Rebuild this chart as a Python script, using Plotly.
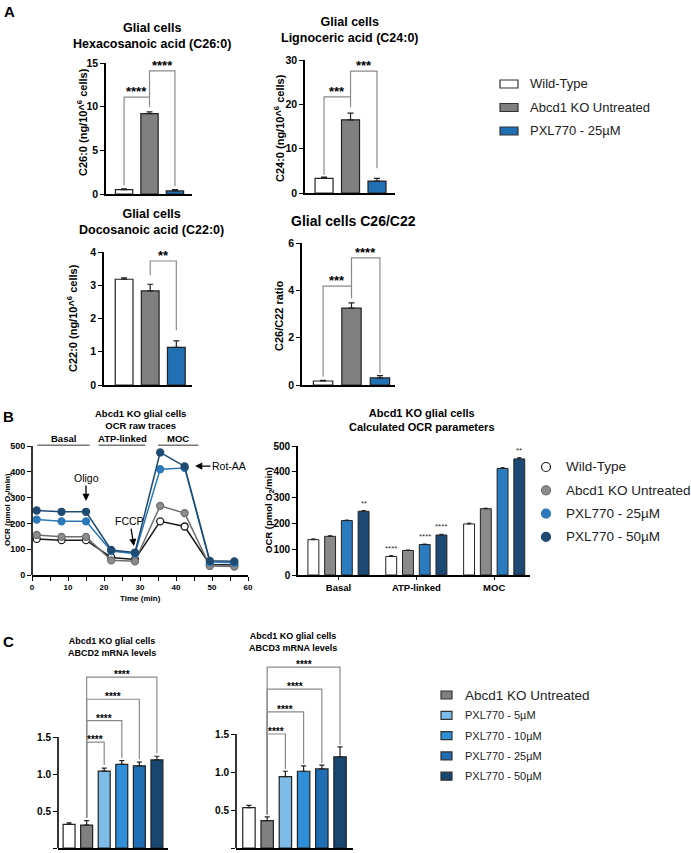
import plotly.graph_objects as go

W, H = 691, 853
FONT = "Liberation Sans, Arial, Helvetica, sans-serif"


def fx(p):
    return p / W


def fy(p):
    return 1 - p / H


# ---------------- DATA ----------------
# Panel A
groups_A = ["Wild-Type", "Abcd1 KO Untreated", "PXL770 - 25µM"]
c26_mean = [0.5, 9.2, 0.35]
c26_err = [0.1, 0.2, 0.15]
c24_mean = [3.3, 16.5, 2.7]
c24_err = [0.3, 1.5, 0.6]
c22_mean = [3.18, 2.83, 1.13]
c22_err = [0.04, 0.2, 0.2]
ratio_mean = [0.17, 3.25, 0.3]
ratio_err = [0.03, 0.22, 0.1]

# Panel B
ocr_groups = ["Wild-Type", "Abcd1 KO Untreated", "PXL770 - 25µM", "PXL770 - 50µM"]
time_min = [1.3, 8.2, 15.0, 22.0, 28.6, 35.6, 42.4, 49.4, 56.2]
ocr_wt = [140, 135, 135, 68, 60, 208, 188, 41, 39]
ocr_ko = [155, 148, 148, 57, 53, 268, 240, 35, 33]
ocr_pxl25 = [215, 208, 208, 93, 83, 410, 415, 50, 47]
ocr_pxl50 = [250, 245, 245, 97, 87, 475, 421, 55, 53]

param_labels = ["Basal", "ATP-linked", "MOC"]
par_wt = [137, 72, 198]
par_ko = [150, 95, 257]
par_pxl25 = [211, 118, 413]
par_pxl50 = [247, 155, 450]
par_wt_err = [3, 3, 3]
par_ko_err = [2, 2, 2]
par_pxl25_err = [2, 2, 3]
par_pxl50_err = [3, 3, 5]
phase_labels = ["Basal", "ATP-linked", "MOC"]
phase_start = [1.5, 18.5, 35.0]
phase_end = [16.0, 31.5, 46.2]

# Panel C
mrna_groups = ["Wild-Type", "Abcd1 KO Untreated", "PXL770 - 5µM", "PXL770 - 10µM",
               "PXL770 - 25µM", "PXL770 - 50µM"]
abcd2_mean = [0.32, 0.31, 1.04, 1.13, 1.11, 1.19]
abcd2_err = [0.02, 0.06, 0.04, 0.05, 0.05, 0.05]
abcd3_mean = [0.53, 0.36, 0.94, 1.01, 1.04, 1.20]
abcd3_err = [0.03, 0.05, 0.07, 0.07, 0.05, 0.13]

# ---------------- STYLE ----------------
COL_A = ["#ffffff", "#808080", "#2170b3"]
COL_B_FILL = ["#ffffff", "#8c8c8c", "#2c78b8", "#1f4a72"]
COL_B_LINE = ["#1a1a1a", "#6e6e6e", "#2c78b8", "#1f4a72"]
COL_B_BAR = ["#ffffff", "#8a8a8a", "#2b7bbf", "#1c4a75"]
COL_C = ["#ffffff", "#808080", "#7dbce9", "#2f8ed8", "#1f6db2", "#174670"]
OUTLINE = "#222222"
BRACKET = "#8a8a8a"

fig = go.Figure()

# ---------------- PANEL A bars ----------------
panelA = [("x", "y", c26_mean, c26_err),
          ("x2", "y2", c24_mean, c24_err),
          ("x3", "y3", c22_mean, c22_err),
          ("x4", "y4", ratio_mean, ratio_err)]
for k, (xa, ya, m, e) in enumerate(panelA):
    for i, g in enumerate(groups_A):
        fig.add_trace(go.Bar(
            x=[i], y=[m[i]], width=0.68, xaxis=xa, yaxis=ya, name=g,
            marker=dict(color=COL_A[i], line=dict(color=OUTLINE, width=1.2)),
            error_y=dict(type="data", array=[e[i]], arrayminus=[0], symmetric=False,
                         color=OUTLINE, thickness=1.2, width=3),
            showlegend=False))

# ---------------- PANEL B traces ----------------
ocr_series = [ocr_wt, ocr_ko, ocr_pxl25, ocr_pxl50]
for s, name in enumerate(ocr_groups):
    fig.add_trace(go.Scatter(
        x=time_min, y=ocr_series[s], mode="lines+markers", xaxis="x5", yaxis="y5",
        line=dict(color=COL_B_LINE[s], width=1.5),
        marker=dict(size=7, color=COL_B_FILL[s], line=dict(color=COL_B_LINE[s], width=1.3)),
        name=name, showlegend=False, cliponaxis=False))

par_series = [par_wt, par_ko, par_pxl25, par_pxl50]
par_errs = [par_wt_err, par_ko_err, par_pxl25_err, par_pxl50_err]
SLOT = 0.215
for s, name in enumerate(ocr_groups):
    xs = [g + (s - 1.5) * SLOT for g in range(len(param_labels))]
    fig.add_trace(go.Bar(
        x=xs, y=par_series[s], width=0.14, xaxis="x6", yaxis="y6", name=name,
        marker=dict(color=COL_B_BAR[s], line=dict(color=OUTLINE, width=1.0)),
        error_y=dict(type="data", array=par_errs[s], arrayminus=[0] * 3, symmetric=False,
                     color=OUTLINE, thickness=1.0, width=2),
        showlegend=False))

# ---------------- PANEL C bars ----------------
panelC = [("x7", "y7", abcd2_mean, abcd2_err), ("x8", "y8", abcd3_mean, abcd3_err)]
for k, (xa, ya, m, e) in enumerate(panelC):
    for i, g in enumerate(mrna_groups):
        fig.add_trace(go.Bar(
            x=[i], y=[m[i]], width=0.68, xaxis=xa, yaxis=ya, name=g,
            marker=dict(color=COL_C[i], line=dict(color=OUTLINE, width=1.2)),
            error_y=dict(type="data", array=[e[i]], arrayminus=[0], symmetric=False,
                         color=OUTLINE, thickness=1.2, width=2.5),
            showlegend=False))

# ---------------- LAYOUT ----------------
def tfont(size):
    return dict(family=FONT, size=size, color="black", weight="bold")


def xax(dom, rng, anchor, **kw):
    d = dict(domain=[fx(dom[0]), fx(dom[1])], range=rng, anchor=anchor, showline=True,
             linecolor="black", linewidth=1.6, showgrid=False, zeroline=False,
             ticks="", showticklabels=False, fixedrange=True)
    d.update(kw)
    return d


def yax(dom, rng, anchor, size, **kw):
    d = dict(domain=[fy(dom[0]), fy(dom[1])], range=rng, anchor=anchor, showline=True,
             linecolor="black", linewidth=1.6, showgrid=False, zeroline=False,
             ticks="outside", ticklen=4, tickwidth=1.4, tickcolor="black",
             tickfont=tfont(size), fixedrange=True)
    d.update(kw)
    return d


B1_TOP = 575 - 560 * 129 / 500
C1_TOP = 848 - 2.45 * 74
C2_TOP = 848 - 2.5 * 76

layout = dict(
    width=W, height=H, margin=dict(l=0, r=0, t=0, b=0, autoexpand=False),
    paper_bgcolor="white", plot_bgcolor="rgba(0,0,0,0)",
    barmode="overlay", font=dict(family=FONT, color="black"), showlegend=False,
    xaxis=xax((106, 192), [-0.71, 2.67], "y"),
    yaxis=yax((194, 63), [0, 15], "x", 10.5, dtick=5),
    xaxis2=xax((305, 395), [-0.72, 2.68], "y2"),
    yaxis2=yax((193, 60), [0, 30], "x2", 10.5, dtick=10),
    xaxis3=xax((104, 192), [-0.77, 2.6], "y3"),
    yaxis3=yax((385, 252), [0, 4], "x3", 10.5, dtick=1),
    xaxis4=xax((302, 395), [-0.74, 2.53], "y4"),
    yaxis4=yax((385, 243), [0, 6], "x4", 10.5, dtick=2),
    xaxis5=xax((32, 248), [0, 60], "y5", ticks="outside", ticklen=4, tickwidth=1.2,
               tickcolor="black", showticklabels=True, tickfont=tfont(8),
               tick0=0, dtick=10,
               minor=dict(ticks="outside", dtick=5, ticklen=4, tickwidth=1.2, tickcolor="black",
                          showgrid=False)),
    yaxis5=yax((575, B1_TOP), [0, 560], "x5", 9, showline=False,
               tickvals=[0, 100, 200, 300, 400, 500]),
    xaxis6=xax((298, 530), [-0.52, 2.46], "y6", ticks="outside", ticklen=3, tickwidth=1.2,
               tickcolor="black", showticklabels=True, tickfont=tfont(9.5),
               tickvals=[0, 1, 2], ticktext=param_labels),
    yaxis6=yax((575, 446), [0, 500], "x6", 10, dtick=100),
    xaxis7=xax((58, 168), [-0.63, 5.63], "y7"),
    yaxis7=yax((848, C1_TOP), [0, 2.45], "x7", 10, showline=False,
               tickvals=[0, 0.5, 1.0, 1.5], ticktext=["0.0", "0.5", "1.0", "1.5"]),
    xaxis8=xax((236, 353), [-0.71, 5.71], "y8"),
    yaxis8=yax((848, C2_TOP), [0, 2.5], "x8", 10, showline=False,
               tickvals=[0, 0.5, 1.0, 1.5], ticktext=["0.0", "0.5", "1.0", "1.5"]),
)
fig.update_layout(**layout)

shapes = []
annotations = []


def ann_px(text, x, y, size, bold=True, angle=0, xanchor="center", yanchor="middle", color="black"):
    annotations.append(dict(
        text=text, x=fx(x), y=fy(y), xref="paper", yref="paper", showarrow=False,
        xanchor=xanchor, yanchor=yanchor, textangle=angle,
        font=dict(family=FONT, size=size, color=color, weight="bold" if bold else "normal")))


def bracket(xa, ya, i, j, h, yl, yr, label, size, yshift):
    shapes.append(dict(type="path", xref=xa, yref=ya,
                       path=f"M {i},{yl} L {i},{h} L {j},{h} L {j},{yr}",
                       line=dict(color=BRACKET, width=1.2)))
    annotations.append(dict(text=label, x=(i + j) / 2, y=h, xref=xa, yref=ya,
                            showarrow=False, yanchor="bottom", yshift=yshift,
                            font=dict(family=FONT, size=size, color="black", weight="bold")))


def key_item(kind, cx, cy, w, h, fill, edge, text, tx, size):
    shapes.append(dict(type=kind, xref="paper", yref="paper",
                       xsizemode="pixel", ysizemode="pixel",
                       xanchor=fx(cx), yanchor=fy(cy), x0=-w / 2, x1=w / 2, y0=-h / 2, y1=h / 2,
                       fillcolor=fill, line=dict(color=edge, width=1.2)))
    annotations.append(dict(text=text, x=fx(tx), y=fy(cy), xref="paper", yref="paper",
                            showarrow=False, xanchor="left", yanchor="middle",
                            font=dict(family=FONT, size=size, color="#222")))


# Panel A brackets
bracket("x", "y", 0, 1, 11.1, 1.0, 10.0, "****", 13, -4)
bracket("x", "y", 1, 2, 14.1, 11.1, 0.9, "****", 13, -4)
bracket("x2", "y2", 0, 1, 21.7, 4.1, 19.4, "***", 13, -4)
bracket("x2", "y2", 1, 2, 27.5, 21.7, 5.6, "***", 13, -4)
bracket("x3", "y3", 1, 2, 3.73, 3.3, 1.65, "**", 13, -4)
bracket("x4", "y4", 0, 1, 4.18, 0.35, 3.65, "***", 13, -4)
bracket("x4", "y4", 1, 2, 5.37, 4.18, 0.5, "****", 13, -4)

# Panel C brackets
for xa, ya, m, e, heights, pad in [("x7", "y7", abcd2_mean, abcd2_err, [1.43, 1.72, 2.01, 2.31], 0.04),
                                   ("x8", "y8", abcd3_mean, abcd3_err, [1.50, 1.79, 2.09, 2.38], 0.03)]:
    for n, j in enumerate(range(2, 6)):
        bracket(xa, ya, 1, j, heights[n], m[1] + e[1] + pad, m[j] + e[j] + pad, "****", 10, -5)
    shapes.append(dict(type="line", xref=xa + " domain", yref=ya, x0=0, x1=0, y0=0, y1=1.5,
                       line=dict(color="black", width=1.6)))

# Panel B1 axis line and phase labels
shapes.append(dict(type="line", xref="x5 domain", yref="y5", x0=0, x1=0, y0=0, y1=500,
                   line=dict(color="black", width=1.6)))
for lab, a, b in zip(phase_labels, phase_start, phase_end):
    shapes.append(dict(type="line", xref="x5", yref="y5", x0=a, x1=b, y0=503, y1=503,
                       line=dict(color="#777777", width=1.5)))
    annotations.append(dict(text=lab, x=(a + b) / 2, y=501, xref="x5", yref="y5",
                            showarrow=False, yanchor="bottom",
                            font=dict(family=FONT, size=9.5, color="black", weight="bold")))

# Injection arrows
for txt, x, y, ax, ay in [("Oligo", 15.0, 287, 0, -23), ("FCCP", 28.3, 112, -4, -25),
                          ("Rot-AA", 45.3, 422, 34, 0)]:
    annotations.append(dict(text=txt, x=x, y=y, xref="x5", yref="y5", showarrow=True,
                            ax=ax, ay=ay, arrowhead=2, arrowsize=1.1, arrowwidth=1.3,
                            arrowcolor="black", standoff=0,
                            font=dict(family=FONT, size=10.5, color="black")))

# Panel B2 significance
sig_B = [(0, 3, "**"), (1, 0, "****"), (1, 2, "****"), (1, 3, "****"), (2, 3, "**")]
for g, s, lab in sig_B:
    annotations.append(dict(text=lab, x=g + (s - 1.5) * SLOT, y=par_series[s][g] + par_errs[s][g],
                            xref="x6", yref="y6", showarrow=False, yanchor="bottom", yshift=1,
                            font=dict(family=FONT, size=8, color="#333")))

# Keys
for i, g in enumerate(groups_A):
    key_item("rect", 509, 84 + i * 23.5, 18, 8, COL_A[i], "#333333", g, 528, 13)
for s, g in enumerate(ocr_groups):
    key_item("circle", 546, 467 + s * 23.3, 9, 9, COL_B_FILL[s], COL_B_LINE[s], g, 564, 13.5)
for n, i in enumerate(range(1, len(mrna_groups))):
    key_item("rect", 446.5, 695 + n * 20.3, 11, 8, COL_C[i], "#333333", mrna_groups[i], 463,
             13.5 if i == 1 else 11)

# Titles and labels
ann_px("A", 2, 11, 15, xanchor="left")
ann_px("B", 1, 416, 15, xanchor="left")
ann_px("C", 1, 641, 15, xanchor="left")

ann_px("Glial cells<br>Hexacosanoic acid (C26:0)", 152, 36, 12.5)
ann_px("Glial cells<br>Lignoceric acid (C24:0)", 350, 30, 12.5)
ann_px("Glial cells<br>Docosanoic acid (C22:0)", 151, 222, 12.5)
ann_px("Glial cells C26/C22", 353, 221, 14)

ann_px("C26:0 (ng/10^<sup>6</sup> cells)", 82, 122, 11, angle=-90)
ann_px("C24:0 (ng/10^<sup>6</sup> cells)", 279, 128, 11, angle=-90)
ann_px("C22:0 (ng/10^<sup>6</sup> cells)", 72, 318, 11, angle=-90)
ann_px("C26/C22 ratio", 279, 316, 11, angle=-90)

ann_px("Abcd1 KO glial cells<br>OCR raw traces", 140, 420, 9.5)
ann_px("Abcd1 KO glial cells<br>Calculated OCR parameters", 422, 420, 11)
ann_px("OCR (pmol O<sub>2</sub>/min)", 8, 510, 8, angle=-90)
ann_px("OCR (pmol O<sub>2</sub>/min)", 269, 510, 9.5, angle=-90)
ann_px("Time (min)", 140, 598, 8)

ann_px("Abcd1 KO glial cells<br>ABCD2 mRNA levels", 112, 647, 9)
ann_px("Abcd1 KO glial cells<br>ABCD3 mRNA levels", 293, 642, 9)

fig.update_layout(shapes=shapes, annotations=annotations)

fig.write_html("out.html", config={"displayModeBar": False},
               post_script="document.body.style.margin='0px';")
